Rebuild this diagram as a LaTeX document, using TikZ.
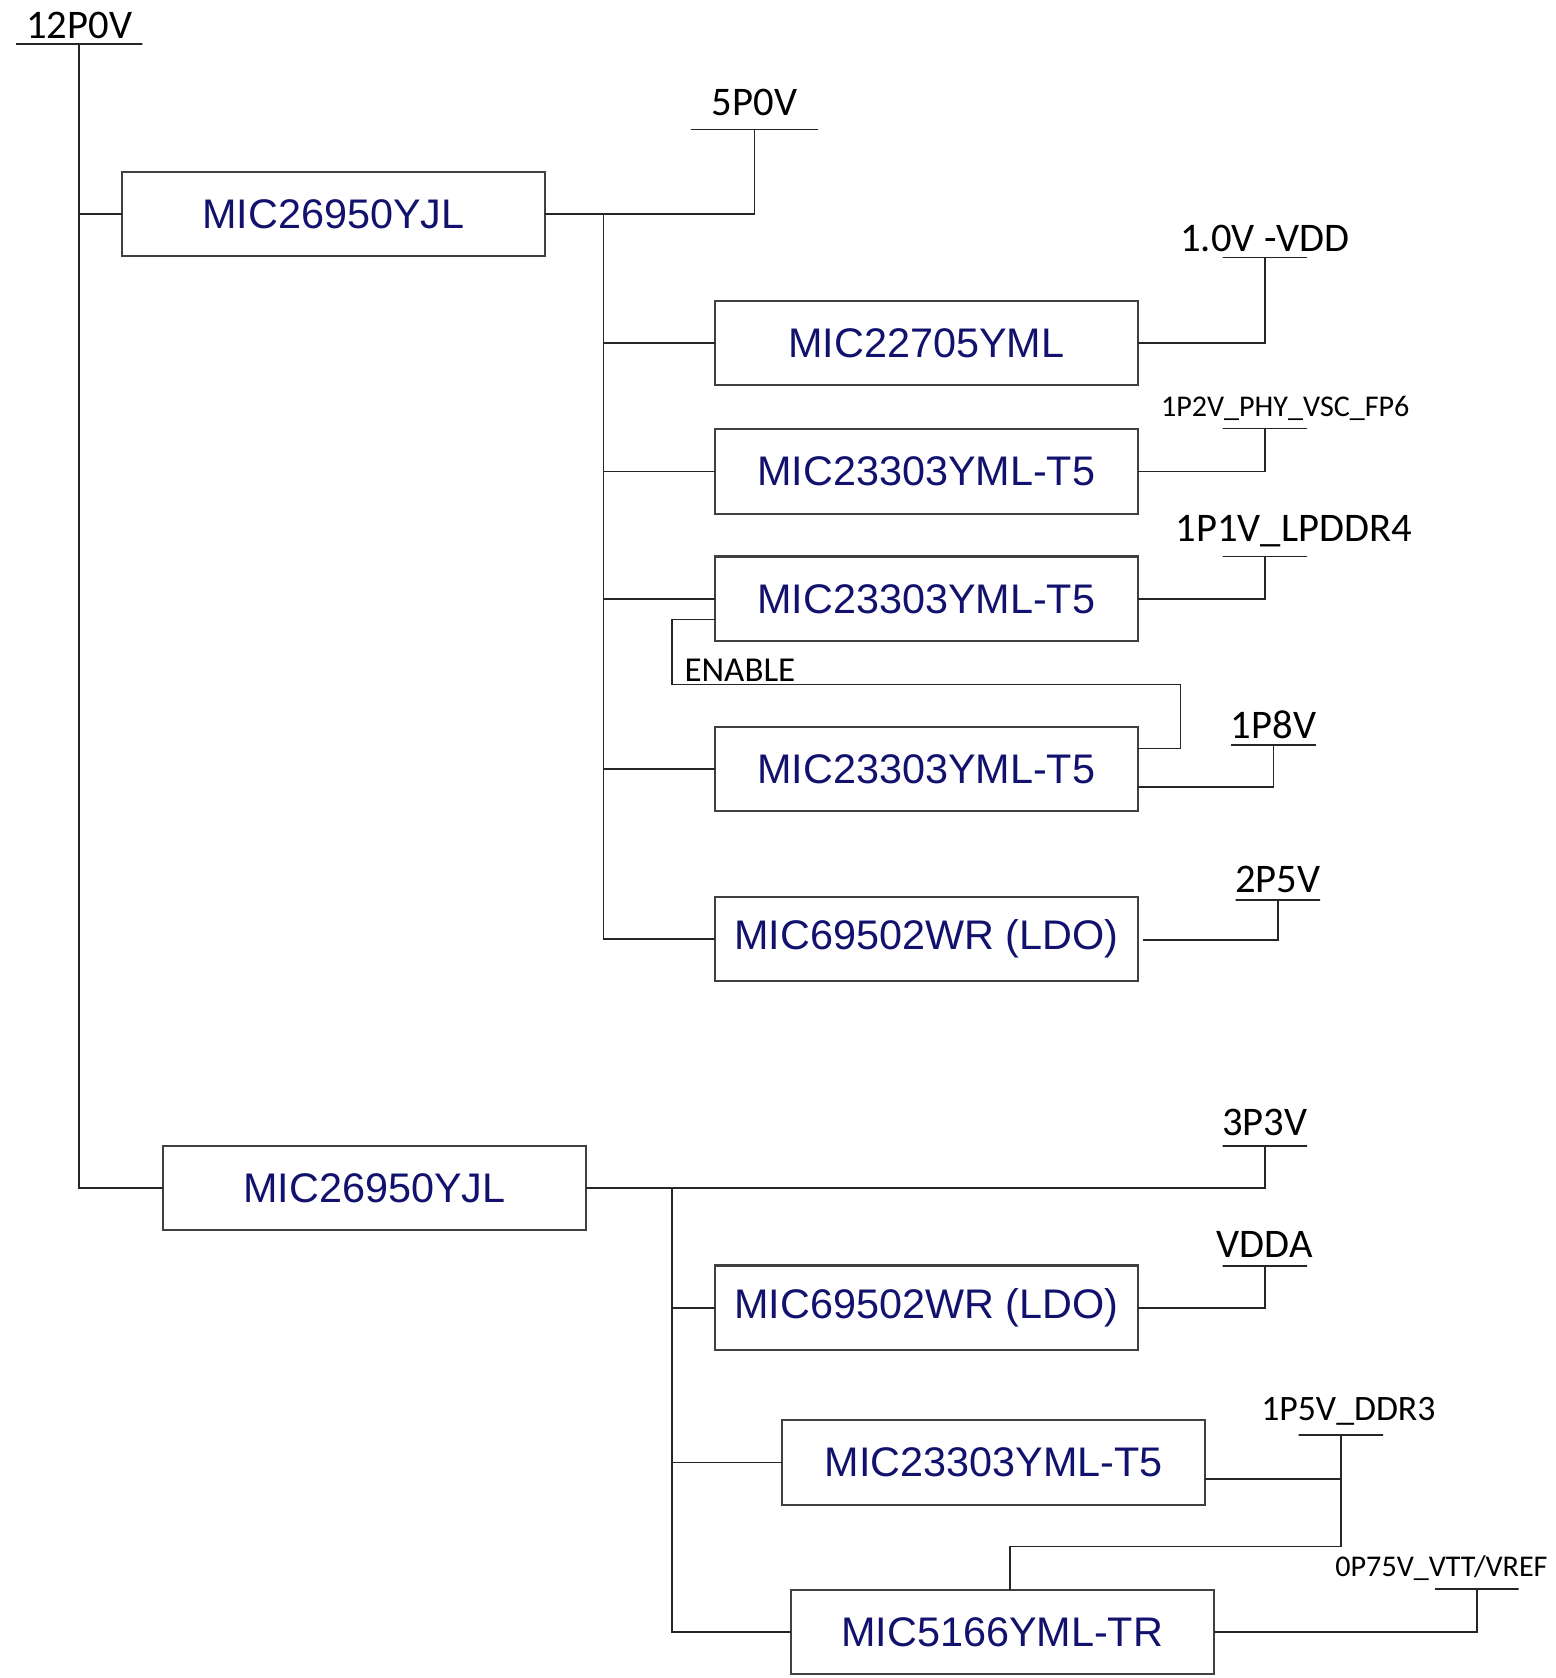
\documentclass[tikz,border=0pt]{standalone}
\usepackage{fontspec}
\setmainfont{Liberation Sans}
\newfontfamily\railfont{Carlito}
\usepackage{tikz}
\usetikzlibrary{positioning, calc}
\definecolor{chipblue}{HTML}{12126E}
\definecolor{wirecol}{HTML}{262626}
\tikzset{
  chip/.style    = {rectangle, draw=black!75, line width=0.55pt,
                    minimum width=3.95cm, minimum height=0.79cm,
                    inner sep=0pt, outer sep=0pt, text=chipblue,
                    font=\fontsize{11}{13}\selectfont},
  bar/.style     = {rectangle, draw=wirecol, line width=0.45pt,
                    minimum width=0.79cm, minimum height=0pt,
                    inner sep=0pt, outer sep=0pt},
  railtxt/.style = {font=\railfont\fontsize{10.8}{12}\selectfont,
                    inner sep=0pt, anchor=base},
  smalltxt/.style= {railtxt, font=\railfont\fontsize{8}{10}\selectfont},
  wire/.style    = {draw=wirecol, line width=0.45pt},
}

\begin{document}
\begin{tikzpicture}[x=0.1mm, y=-0.1mm]
  \useasboundingbox (0,0) rectangle (1454,1568);

  % 12P0V input
  \node[bar, minimum width=1.18cm, label={[railtxt, yshift=1.5pt]above:12P0V}] (r12) at (74,41) {};

  % first buck, 5P0V bus
  \node[chip] (bk1) at (311.5,200) {MIC26950YJL};
  \node[bar, minimum width=1.19cm, label={[railtxt, yshift=3.8pt]above:5P0V}] (r5) at (705,121) {};
  \draw[wire] (r12) |- (bk1.west);
  \draw[wire] (bk1.east) -| (r5);

  \node[chip] (reg1) at (865.5,320.5) {MIC22705YML};
  \node[chip, below=0.41cm of reg1] (reg2) {MIC23303YML-T5};
  \node[chip, below=0.40cm of reg2] (reg3) {MIC23303YML-T5};
  \node[chip, below=0.80cm of reg3] (reg4) {MIC23303YML-T5};
  \node[chip, below=0.80cm of reg4] (ldo1) {MIC69502WR (LDO)};

  \coordinate (bus5) at (564,200);
  \draw[wire] (bus5) |- (ldo1.west);
  \foreach \r in {reg1,reg2,reg3,reg4}
    \draw[wire] (bus5 |- \r.west) -- (\r.west);

  \node[bar, label={[railtxt, yshift=1.6pt]above:1.0V -VDD}] (r10) at (1182,240.5) {};
  \draw[wire] (reg1.east) -| (r10);
  \node[bar, label={[smalltxt, xshift=0.19cm, yshift=3.1pt]above:1P2V\_PHY\_VSC\_FP6}] (rphy) at (1182,400.5) {};
  \draw[wire] (reg2.east) -| (rphy);
  \node[bar, label={[railtxt, xshift=0.27cm, yshift=4pt]above:1P1V\_LPDDR4}] (r11) at (1182,520) {};
  \draw[wire] (reg3.east) -| (r11);

  % enable chain
  \draw[wire] ($(reg3.west)+(0,19.5)$) -- ++(-40,0) |- ($(reg4.east)+(40,-79)$)
              |- ($(reg4.east)+(0,-19)$);
  \node[railtxt, font=\railfont\fontsize{9.3}{11}\selectfont, anchor=base west] (en) at (639,637) {ENABLE};

  \node[bar, label={[railtxt, yshift=1.7pt]above:1P8V}] (r18) at (1190,696) {};
  \draw[wire] ($(reg4.east)+(0,17)$) -| (r18);
  \node[bar, label={[railtxt, yshift=2pt]above:2P5V}] (r25) at (1194,841) {};
  \draw[wire] ($(ldo1.east)+(5,1)$) -| (r25);

  % second buck, 3P3V bus
  \node[chip] (bk2) at (350,1110) {MIC26950YJL};
  \draw[wire] (r12) |- (bk2.west);
  \node[bar, label={[railtxt, yshift=2.7pt]above:3P3V}] (r33) at (1182,1071) {};
  \draw[wire] (bk2.east) -| (r33);

  \node[chip] (ldo2) at (865.5,1222) {MIC69502WR (LDO)};
  \node[chip, below=0.655cm of ldo2, xshift=0.63cm] (reg6) {MIC23303YML-T5};
  \node[chip, below=0.795cm of reg6, xshift=0.08cm] (vtt) {MIC5166YML-TR};

  \coordinate (bus3) at (628,1110);
  \draw[wire] (bus3) |- (vtt.west);
  \foreach \r in {ldo2,reg6}
    \draw[wire] (bus3 |- \r.west) -- (\r.west);

  \node[bar, label={[railtxt, yshift=2.2pt]above:VDDA}] (rvdda) at (1182,1183) {};
  \draw[wire] (ldo2.east) -| (rvdda);

  \node[bar, label={[railtxt, font=\railfont\fontsize{9.5}{11}\selectfont, xshift=0.07cm, yshift=4pt]above:1P5V\_DDR3}] (r15) at (1253,1341) {};
  \coordinate (ddr) at ($(reg6.east)+(0,15.5)$);
  \draw[wire] (ddr) -| (r15);
  \draw[wire] (ddr -| r15) -- ++(0,63) -| ($(vtt.north)+(7.5,0)$);

  \node[bar, minimum width=0.78cm, label={[smalltxt, xshift=-0.33cm, yshift=3.3pt]above:0P75V\_VTT/VREF}] (r075) at (1380,1485) {};
  \draw[wire] (vtt.east) -| (r075);
\end{tikzpicture}
\end{document}
